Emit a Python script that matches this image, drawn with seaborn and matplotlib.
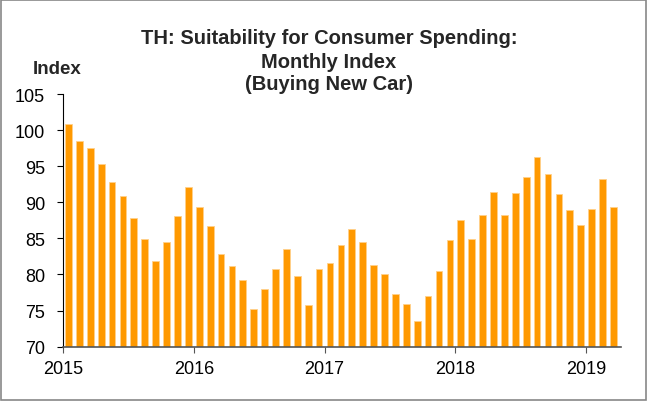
import matplotlib
matplotlib.use("Agg")
import matplotlib.pyplot as plt
import seaborn as sns
import pandas as pd
from matplotlib.patches import Rectangle

months = pd.date_range("2015-01-01", "2019-03-01", freq="MS")
values_2015 = [100.9, 98.5, 97.5, 95.3, 92.8, 90.8, 87.8, 84.9, 81.9, 84.5, 88.1, 92.1]
values_2016 = [89.3, 86.7, 82.8, 81.2, 79.2, 75.2, 78.0, 80.7, 83.5, 79.8, 75.7, 80.7]
values_2017 = [81.6, 84.1, 86.3, 84.5, 81.3, 80.0, 77.3, 75.9, 73.6, 77.0, 80.5, 84.8]
values_2018 = [87.5, 84.9, 88.2, 91.4, 88.2, 91.3, 93.5, 96.3, 93.9, 91.1, 88.9, 86.8]
values_2019 = [89.1, 93.2, 89.3]
values = values_2015 + values_2016 + values_2017 + values_2018 + values_2019
year_labels = ["2015", "2016", "2017", "2018", "2019"]
y_ticks = [70, 75, 80, 85, 90, 95, 100, 105]

df = pd.DataFrame({"month": [m.strftime("%Y-%m") for m in months], "value": values})

sns.set_theme(style="white")
plt.rcParams["font.family"] = ["Liberation Sans", "DejaVu Sans"]

fig = plt.figure(figsize=(6.48, 4.02), dpi=100)
ax = fig.add_axes([63/648, 1-347.6/402, (621-63)/648, (347.6-95)/402])

sns.barplot(data=df, x="month", y="value", color="#FF9900", saturation=1,
            width=0.62, edgecolor="#FFD08A", linewidth=0.6, ax=ax)

ax.set_ylim(70, 105)
ax.set_yticks(y_ticks)
ax.set_yticklabels([str(t) for t in y_ticks], fontsize=13)
ax.set_xlim(-0.5, 50.7)
ax.set_xticks([-0.5 + 12*i for i in range(len(year_labels))])
ax.set_xticklabels(year_labels, fontsize=13)
ax.set_xlabel("")
ax.set_ylabel("")
for s in ["top", "right"]:
    ax.spines[s].set_visible(False)
ax.spines["left"].set_color("black")
ax.spines["left"].set_linewidth(0.8)
ax.spines["bottom"].set_color("#555555")
ax.spines["bottom"].set_linewidth(1.2)
ax.tick_params(axis="y", which="both", left=True, length=4, width=0.8, color="black", pad=9, labelcolor="black")
ax.tick_params(axis="x", which="both", bottom=True, length=4, width=0.8, color="#555555", pad=6, labelcolor="black")
ax.grid(False)

fig.text(329/648, 1-39/402, "TH: Suitability for Consumer Spending:", ha="center", va="center",
         fontsize=14.5, fontweight="bold")
fig.text(329/648, 1-62/402, "Monthly Index", ha="center", va="center", fontsize=14.5, fontweight="bold")
fig.text(329/648, 1-85/402, "(Buying New Car)", ha="center", va="center", fontsize=14.5, fontweight="bold")
fig.text(57/648, 1-70/402, "Index", ha="center", va="center", fontsize=13.5, fontweight="bold")

fig.patches.append(Rectangle((0.002, 0.003), 0.995, 0.994, transform=fig.transFigure,
                             fill=False, edgecolor="#888888", linewidth=1.2))

fig.savefig("out.png", dpi=100)
